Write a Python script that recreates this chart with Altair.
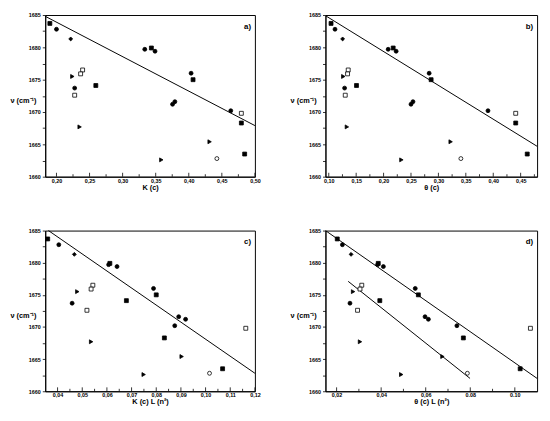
import altair as alt
import pandas as pd

# ---- data ----
NU = [1683.7, 1682.8, 1681.3, 1675.5, 1673.7, 1672.6, 1676.5, 1675.9, 1667.7, 1674.1,
      1679.7, 1679.9, 1679.4, 1662.6, 1671.2, 1671.6, 1676.0, 1675.0, 1665.4, 1662.8,
      1670.2, 1669.8, 1668.3, 1663.5]
MARKER = ["square", "circle", "diamond", "triangle-right", "circle", "square", "square", "square",
          "triangle-right", "square", "circle", "square", "circle", "triangle-right", "circle", "circle",
          "circle", "square", "triangle-right", "circle", "circle", "square", "square", "square"]
FILLKIND = ["filled", "filled", "filled", "filled", "filled", "open", "open", "open",
            "filled", "filled", "filled", "filled", "filled", "filled", "filled", "filled",
            "filled", "filled", "filled", "open", "filled", "open", "filled", "filled"]

X_A = [0.190, 0.200, 0.2215, 0.224, 0.2275, 0.2275, 0.2395, 0.2365, 0.235, 0.2595, 0.3335, 0.3435,
       0.349, 0.3585, 0.3755, 0.379, 0.4035, 0.4065, 0.4315, 0.4425, 0.4635, 0.4795, 0.4795, 0.4845]
X_B = [0.1042, 0.1114, 0.1253, 0.1265, 0.1289, 0.1301, 0.1355, 0.1343, 0.1331, 0.1506, 0.2084, 0.2175,
       0.2229, 0.2325, 0.250, 0.2536, 0.2831, 0.2867, 0.3223, 0.341, 0.3904, 0.441, 0.441, 0.462]
X_C = [0.036, 0.0405, 0.0468, 0.048, 0.0459, 0.0519, 0.0543, 0.0536, 0.0536, 0.0679, 0.0607, 0.0612,
       0.0641, 0.0749, 0.0919, 0.0891, 0.0789, 0.080, 0.0903, 0.1016, 0.0875, 0.1163, 0.0833, 0.1069]
X_D = [0.0203, 0.0226, 0.0265, 0.0274, 0.026, 0.0294, 0.0313, 0.0305, 0.0305, 0.0394, 0.0384, 0.0387,
       0.041, 0.049, 0.0612, 0.0597, 0.0553, 0.0567, 0.0675, 0.0787, 0.074, 0.107, 0.0769, 0.1024]

# fitted lines (end points)
LINE_A_X = [0.183, 0.50]
LINE_A_Y = [1684.8, 1667.9]
LINE_B_X = [0.095, 0.48]
LINE_B_Y = [1684.85, 1664.7]
LINE_C_X = [0.0363, 0.12]
LINE_C_Y = [1685.0, 1662.8]
LINE_D1_X = [0.015, 0.11]
LINE_D1_Y = [1685.0, 1662.0]
LINE_D2_X = [0.0252, 0.0799]
LINE_D2_Y = [1677.1, 1662.0]

# axes
Y_MAJOR = [1660, 1665, 1670, 1675, 1680, 1685]
Y_MINOR = [1662.5, 1667.5, 1672.5, 1677.5, 1682.5]

XA_MAJOR = [0.20, 0.25, 0.30, 0.35, 0.40, 0.45, 0.50]
XA_LABELS = ["0,20", "0,25", "0,30", "0,35", "0,40", "0,45", "0,50"]
XA_MINOR = [0.225, 0.275, 0.325, 0.375, 0.425, 0.475]

XB_MAJOR = [0.10, 0.15, 0.20, 0.25, 0.30, 0.35, 0.40, 0.45]
XB_LABELS = ["0,10", "0,15", "0,20", "0,25", "0,30", "0,35", "0,40", "0,45"]
XB_MINOR = [0.125, 0.175, 0.225, 0.275, 0.325, 0.375, 0.425, 0.475]

XC_MAJOR = [0.04, 0.05, 0.06, 0.07, 0.08, 0.09, 0.10, 0.11, 0.12]
XC_LABELS = ["0,04", "0,05", "0,06", "0,07", "0,08", "0,09", "0,10", "0,11", "0,12"]
XC_MINOR = [0.045, 0.055, 0.065, 0.075, 0.085, 0.095, 0.105, 0.115]

XD_MAJOR = [0.02, 0.04, 0.06, 0.08, 0.10]
XD_LABELS = ["0,02", "0,04", "0,06", "0.08", "0.10"]
XD_MINOR = [0.03, 0.05, 0.07, 0.09]

Y_TITLE = "ν (cm⁻¹)"
FONT = "Liberation Sans"


def label_expr(values, labels):
    parts = [f"datum.value == {v} ? '{l}'" for v, l in zip(values, labels)]
    return " : ".join(parts) + " : ''"


def panel(xvals, xdom, xmaj, xlab, xmin, xtitle, tag, lines, w, h):
    xs = alt.Scale(domain=xdom, nice=False, zero=False)
    ys = alt.Scale(domain=[1660, 1685], nice=False, zero=False)
    xaxis = alt.Axis(values=xmaj, labelExpr=label_expr(xmaj, xlab), ticks=False, tickSize=0,
                     title=xtitle, labelPadding=1.5, titlePadding=0, grid=False,
                     labelFlush=False, labelOverlap=False)
    yaxis = alt.Axis(values=Y_MAJOR + Y_MINOR,
                     labelExpr="datum.value % 5 == 0 ? format(datum.value, 'd') : ''",
                     title=None, tickSize=3, labelPadding=2, grid=False,
                     labelOverlap=False)
    X = lambda: alt.X("x:Q", scale=xs, axis=xaxis)
    Y = lambda: alt.Y("nu:Q", scale=ys, axis=yaxis)

    pts = pd.DataFrame({"x": xvals, "nu": NU, "marker": MARKER, "fillkind": FILLKIND})
    points = alt.Chart(pts).mark_point(filled=True, stroke="black", strokeWidth=0.8, opacity=1).encode(
        x=X(), y=Y(),
        shape=alt.Shape("marker:N", scale=None),
        fill=alt.Fill("fillkind:N", scale=alt.Scale(domain=["filled", "open"], range=["black", "white"]),
                      legend=None),
        size=alt.Size("marker:N", scale=alt.Scale(domain=["square", "circle", "diamond", "triangle-right"],
                                                  range=[16, 16, 22, 26]), legend=None),
    )

    rows = []
    for i, (lx, ly) in enumerate(lines):
        for a, b in zip(lx, ly):
            rows.append({"x": a, "nu": b, "seg": i})
    ldf = pd.DataFrame(rows)
    line = alt.Chart(ldf).mark_line(color="black", strokeWidth=1).encode(
        x=X(), y=Y(), detail="seg:N")

    tmaj = alt.Chart(pd.DataFrame({"x": xmaj})).mark_rule(color="black", strokeWidth=0.8).encode(
        x=X(), y=alt.value(h), y2=alt.value(h - 4))
    tmin = alt.Chart(pd.DataFrame({"x": xmin})).mark_rule(color="black", strokeWidth=0.8).encode(
        x=X(), y=alt.value(h), y2=alt.value(h - 2.5))

    label = alt.Chart(pd.DataFrame({"tag": [tag]})).mark_text(
        align="right", baseline="middle", fontSize=8, fontWeight="bold", font=FONT, color="black"
    ).encode(text="tag:N", x=alt.value(w - 4), y=alt.value(12))

    ytitle = alt.Chart(pd.DataFrame({"t": [Y_TITLE]})).mark_text(
        align="right", baseline="middle", fontSize=7.5, fontWeight="bold", font=FONT, color="black"
    ).encode(text="t:N", x=alt.value(-9), y=alt.value(h / 2 + 5))

    return alt.layer(line, tmaj, tmin, points, label, ytitle).properties(width=w, height=h)


A = panel(X_A, [0.183, 0.50], XA_MAJOR, XA_LABELS, XA_MINOR, "K (c)", "a)",
          [(LINE_A_X, LINE_A_Y)], 214, 165)
B = panel(X_B, [0.094, 0.48], XB_MAJOR, XB_LABELS, XB_MINOR, "θ (c)", "b)",
          [(LINE_B_X, LINE_B_Y)], 216, 165)
C = panel(X_C, [0.035, 0.12], XC_MAJOR, XC_LABELS, XC_MINOR, "K (c) L (n²)", "c)",
          [(LINE_C_X, LINE_C_Y)], 214, 164)
D = panel(X_D, [0.015, 0.11], XD_MAJOR, XD_LABELS, XD_MINOR, "θ (c) L (n²)", "d)",
          [(LINE_D1_X, LINE_D1_Y), (LINE_D2_X, LINE_D2_Y)], 216, 164)

chart = alt.concat(
    A, B, C, D, columns=2, spacing={"row": 55, "column": 72}, bounds="flush",
    padding={"left": 0, "top": 0, "right": 2, "bottom": 2},
).configure(
    background="white"
).configure_view(
    stroke="black", strokeWidth=1
).configure_axis(
    domainColor="black", domainWidth=1, tickColor="black", tickWidth=0.8,
    labelColor="black", titleColor="black", labelFont=FONT, titleFont=FONT,
    labelFontSize=5.5, labelFontWeight="bold", titleFontSize=7.5, titleFontWeight="bold",
)

chart.save("out.html", embed_options={"renderer": "svg", "actions": False})
